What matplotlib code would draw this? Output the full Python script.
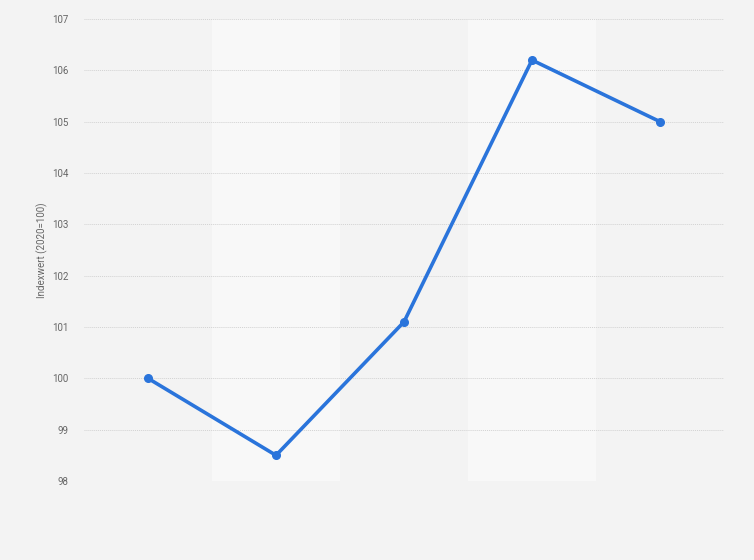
import matplotlib
matplotlib.use("Agg")
import matplotlib.pyplot as plt

plt.rcParams['font.family'] = ['Roboto', 'DejaVu Sans']

positions = [0, 1, 2, 3, 4]
values = [100.0, 98.5, 101.1, 106.2, 105.0]
yticks = [98, 99, 100, 101, 102, 103, 104, 105, 106, 107]
ylabel = "Indexwert (2020=100)"

fig = plt.figure(figsize=(7.54, 5.60), dpi=100)
fig.patch.set_facecolor('#f3f3f3')
ax = fig.add_axes([84/754, 1-481/560, 640/754, 462/560])
ax.set_facecolor('#f3f3f3')

for i in positions:
    if i % 2 == 1:
        ax.axvspan(i-0.5, i+0.5, color='#f8f8f8', zorder=0, lw=0)

ax.plot(positions, values, color='#2a74db', lw=2.6, marker='o', ms=5.5,
        solid_capstyle='round', zorder=3)

ax.set_xlim(-0.5, 4.5)
ax.set_ylim(98, 107)
ax.set_yticks(yticks)
ax.set_yticklabels([str(t) for t in yticks], fontsize=7, color='#666666')
ax.set_xticks([])
ax.tick_params(axis='y', length=0, pad=11)
ax.grid(axis='y', color='#d2d2d2', linestyle=(0, (1, 1)), lw=0.7, zorder=1)
ax.set_axisbelow(True)
for s in ax.spines.values():
    s.set_visible(False)
ax.set_ylabel(ylabel, fontsize=7, color='#666666', labelpad=3)

fig.savefig('out.png', dpi=100, facecolor=fig.get_facecolor())
